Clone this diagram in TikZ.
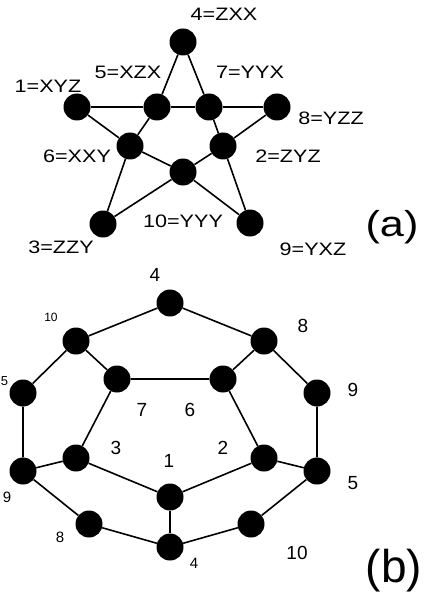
\documentclass[tikz,border=0pt]{standalone}
\usepackage{fontspec}
\setmainfont{Liberation Sans}
\newfontfamily\widesans{Liberation Sans}[FakeStretch=1.2]
\usetikzlibrary{positioning}

\begin{document}
\begin{tikzpicture}[
  x=1pt,y=-1pt,
  vert/.style={circle,fill=black,minimum size=27pt,inner sep=0pt},
  edge/.style={line width=1.6pt,draw=black},
  taga/.style={font=\widesans\fontsize{18}{18}\selectfont,inner sep=0pt},
  tagb/.style={font=\fontsize{19}{19}\selectfont,inner sep=0pt},
  tags/.style={font=\fontsize{15}{15}\selectfont,inner sep=0pt}
]
  \useasboundingbox (0,0) rectangle (431,596);

  % (a) star
  \node[vert] (a4) at (183,42) {};
  \node[vert] (a1) at (77,107) {};
  \node[vert] (a5) at (157,107) {};
  \node[vert] (a7) at (209,107) {};
  \node[vert] (a8) at (277,107) {};
  \node[vert] (a6) at (130,146) {};
  \node[vert] (a2) at (223,146) {};
  \node[vert] (a10) at (183,172) {};
  \node[vert] (a3) at (103,224) {};
  \node[vert] (a9) at (250,223) {};

  \draw[edge] (a4) -- (a5) -- (a6) -- (a3);
  \draw[edge] (a4) -- (a7) -- (a2) -- (a9);
  \draw[edge] (a1) -- (a5) -- (a7) -- (a8);
  \draw[edge] (a1) -- (a6) -- (a10) -- (a9);
  \draw[edge] (a8) -- (a2) -- (a10) -- (a3);

  \node[taga] (la4) at (224,14) {4=ZXX};
  \node[taga] (la5) at (128,72) {5=XZX};
  \node[taga] (la7) at (250,72) {7=YYX};
  \node[taga] (la1) at (48,86) {1=XYZ};
  \node[taga] (la8) at (331,118) {8=YZZ};
  \node[taga] (la6) at (77,156) {6=XXY};
  \node[taga] (la2) at (288,156) {2=ZYZ};
  \node[taga] (la10) at (183,221) {10=YYY};
  \node[taga] (la3) at (61,247) {3=ZZY};
  \node[taga] (la9) at (313,249) {9=YXZ};
  \node[font=\widesans\fontsize{36}{36}\selectfont,inner sep=0pt] (capa) at (392,227) {(a)};

  % (b) cage
  \node[vert] (b4t) at (170,303) {};
  \node[vert] (b10) at (76,341) {};
  \node[vert] (b8) at (264,341) {};
  \node[vert] (b7) at (117,379) {};
  \node[vert] (b6) at (223,379) {};
  \node[vert] (b5l) at (23,393) {};
  \node[vert] (b9r) at (317,393) {};
  \node[vert] (b3) at (76,458) {};
  \node[vert] (b2) at (264,458) {};
  \node[vert] (b9l) at (23,471) {};
  \node[vert] (b5r) at (317,471) {};
  \node[vert] (b1) at (170,497) {};
  \node[vert] (b8l) at (89,524) {};
  \node[vert] (b10r) at (251,524) {};
  \node[vert] (b4b) at (170,547) {};

  \draw[edge] (b5l) -- (b10) -- (b4t) -- (b8) -- (b9r);
  \draw[edge] (b10) -- (b7) -- (b6) -- (b8);
  \draw[edge] (b7) -- (b3) -- (b1) -- (b2) -- (b6);
  \draw[edge] (b5l) -- (b9l) -- (b3);
  \draw[edge] (b9r) -- (b5r) -- (b2);
  \draw[edge] (b9l) -- (b8l) -- (b4b) -- (b10r) -- (b5r);
  \draw[edge] (b1) -- (b4b);

  \node[tagb] (lb4t) at (155,275) {4};
  \node[font=\fontsize{12}{12}\selectfont,inner sep=0pt] (lb10) at (51,317) {10};
  \node[tagb] (lb8) at (303,326) {8};
  \node[font=\fontsize{13}{13}\selectfont,inner sep=0pt] (lb5l) at (4.5,381) {5};
  \node[tagb] (lb9r) at (353,390) {9};
  \node[tagb] (lb7) at (142,410) {7};
  \node[tagb] (lb6) at (190,410) {6};
  \node[tagb] (lb3) at (116,448) {3};
  \node[tagb] (lb2) at (223,448) {2};
  \node[tagb] (lb1) at (169,461) {1};
  \node[tagb] (lb5r) at (353,483) {5};
  \node[tags] (lb9l) at (7,497) {9};
  \node[tags] (lb8l) at (60,537) {8};
  \node[tags] (lb4b) at (194,563) {4};
  \node[tagb] (lb10r) at (297,553) {10};
  \node[font=\fontsize{46}{46}\selectfont,inner sep=0pt] (capb) at (394,571) {(b)};
\end{tikzpicture}
\end{document}
